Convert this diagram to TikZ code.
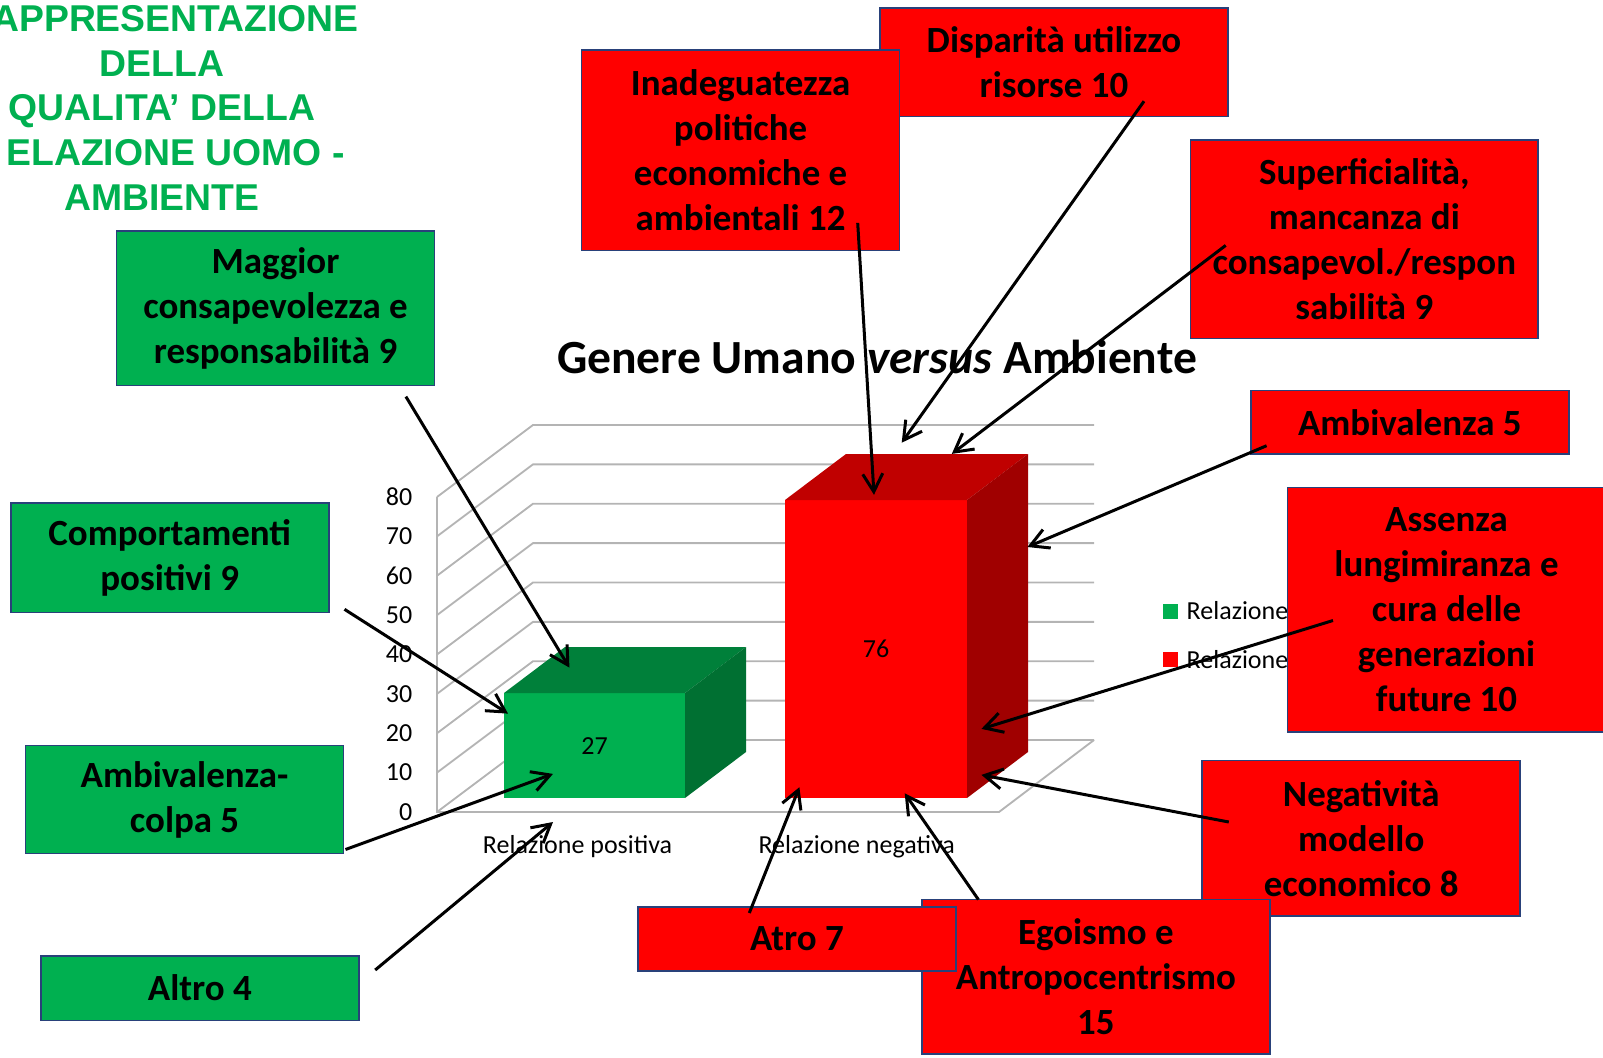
\documentclass[tikz,border=0pt]{standalone}
\usepackage{fontspec}
\setmainfont{Carlito}
\newfontfamily\titlefont{Liberation Sans}
\usepackage{tikz}
\usetikzlibrary{arrows.meta, calc, positioning}
\definecolor{boxgreen}{HTML}{00B050}
\definecolor{boxred}{HTML}{FF0000}
\definecolor{boxedge}{RGB}{41,65,122}
\definecolor{topgreen}{RGB}{0,128,58}
\definecolor{sidegreen}{RGB}{0,112,50}
\definecolor{topred}{RGB}{192,0,0}
\definecolor{sidered}{RGB}{160,0,0}
\definecolor{wallgray}{RGB}{180,180,180}

\tikzset{
  causebox/.style={draw=boxedge, line width=1.2pt, minimum width=238.5pt, inner sep=0pt,
    align=center, text=black, font=\fontsize{27.7}{33.7}\selectfont\bfseries},
  greenbox/.style={causebox, fill=boxgreen},
  redbox/.style={causebox, fill=boxred},
  widebox/.style={minimum width=260.7pt},
  pointer/.style={line width=2.25pt, -{Straight Barb[length=13.5pt,width=15pt]}},
  charttext/.style={font=\fontsize{19.5}{23}\selectfont},
}

\begin{document}
\begin{tikzpicture}[x=0.75pt, y=-0.75pt]
			\useasboundingbox (0,0) rectangle (1603,1057);
			\clip (0,0) rectangle (1603,1057);
			
			% Title
			\node[anchor=north, align=center, text=boxgreen, font=\titlefont\fontsize{28}{33.6}\selectfont\bfseries] (titolo) at (162,0.5)
				{\hphantom{R}APPRESENTAZIONE\\DELLA\\QUALITA’ DELLA\\\hphantom{R}ELAZIONE UOMO -\\AMBIENTE};
			\node[anchor=base, font=\fontsize{35.7}{40}\selectfont\bfseries] (grafico) at (877,373)
				{Genere Umano \textit{versus} Ambiente};
			
			% walls and grid
			\foreach \v [count=\i from 0] in {0,10,...,80} {
				\draw[wallgray, line width=1.4pt] (437,{812-\i*39.375}) -- (533,{740-\i*39.375}) -- (1094,{740-\i*39.375});
				\node[charttext, anchor=east] (tick\v) at (417,{812-\i*39.375}) {\v};
			}
			\draw[wallgray, line width=1.4pt] (437,497) -- (437,812) -- (999,812) -- (1094,740);
			
			% bars
			\fill[boxgreen] (504,693) rectangle (685,798);
			\fill[topgreen] (504,693) -- (565,647) -- (746,647) -- (685,693) -- cycle;
			\fill[sidegreen] (685,693) -- (746,647) -- (746,752) -- (685,798) -- cycle;
			\fill[boxred] (785,500) rectangle (967,798);
			\fill[topred] (785,500) -- (846,454) -- (1028,454) -- (967,500) -- cycle;
			\fill[sidered] (967,500) -- (1028,454) -- (1028,752) -- (967,798) -- cycle;
			\node[charttext] (val-pos) at (594.5,746) {27};
			\node[charttext] (val-neg) at (876,649) {76};
			\node[charttext] (cat-pos) at (577.6,846.5) {Relazione positiva};
			\node[charttext] (cat-neg) at (856.7,846.5) {Relazione negativa};
			
			% legend
			\fill[boxgreen] (1163,604) rectangle (1178,618.5);
			\node[charttext, anchor=west] (leg-pos) at (1182,611) {Relazione};
			\fill[boxred] (1163,652) rectangle (1178,666.5);
			\node[charttext, anchor=west] (leg-neg) at (1182,659.4) {Relazione};
			
			% positive causes
			\node[greenbox, minimum height=115.8pt] (maggior) at (275.5,308.2) {Maggior\\consapevolezza e\\responsabilità 9};
			\node[greenbox, minimum height=82pt] (comport) at (169.7,557.7) {Comportamenti\\positivi 9};
			\node[greenbox, minimum height=81.2pt] (ambcolpa) at (184.5,799.5) {Ambivalenza-\\colpa 5};
			\node[greenbox, minimum height=48.3pt] (altro) at (199.8,988.1) {Altro 4};
			
			% negative causes
			\node[redbox, widebox, minimum height=81.2pt] (dispar) at (1054,62.4) {Disparità utilizzo\\risorse 10};
			\node[redbox, minimum height=150.3pt] (inad) at (740.6,150.3) {Inadeguatezza\\politiche\\economiche e\\ambientali 12};
			\node[redbox, widebox, minimum height=148.8pt] (superf) at (1364.3,239.2) {Superficialità,\\mancanza di\\consapevol./respon\\sabilità 9};
			\node[redbox, minimum height=47.5pt] (ambiv) at (1409.8,422.2) {Ambivalenza 5};
			\node[redbox, minimum height=183.3pt] (assenza) at (1446.5,609.8) {Assenza\\lungimiranza e\\cura delle\\generazioni\\future 10};
			\node[redbox, minimum height=116.5pt] (negat) at (1361.2,838.3) {Negatività\\modello\\economico 8};
			\node[redbox, widebox, minimum height=115.8pt] (egoismo) at (1095.9,976.8) {Egoismo e\\Antropocentrismo\\15};
			\node[redbox, minimum height=48.3pt] (atro) at (796.9,939) {Atro 7};
			
			% arrows
			\coordinate (maggior-tail) at (405.9,396.6);   \coordinate (maggior-tip) at (569.4,667.6);
			\coordinate (comport-tail) at (344.5,609.3);   \coordinate (comport-tip) at (508,713.6);
			\coordinate (ambcolpa-tail) at (345.5,849.5);  \coordinate (ambcolpa-tip) at (553,773.9);
			\coordinate (altro-tail) at (375.2,970);       \coordinate (altro-tip) at (553,822);
			\coordinate (inad-tail) at (857.7,222.9);      \coordinate (inad-tip) at (874,494.8);
			\coordinate (dispar-tail) at (1144,101.2);     \coordinate (dispar-tip) at (901.7,442.7);
			\coordinate (superf-tail) at (1225.7,245.4);   \coordinate (superf-tip) at (951.8,453.9);
			\coordinate (ambiv-tail) at (1266.6,445.7);    \coordinate (ambiv-tip) at (1027.4,547);
			\coordinate (assenza-tail) at (1333,620.5);    \coordinate (assenza-tip) at (981.4,728.9);
			\coordinate (negat-tail) at (1228.8,822);      \coordinate (negat-tip) at (981.4,774.9);
			\coordinate (egoismo-tail) at (978.4,899.6);   \coordinate (egoismo-tip) at (904.7,793.3);
			\coordinate (atro-tail) at (749.3,913);        \coordinate (atro-tip) at (799.4,787.2);
			\foreach \n in {maggior,comport,ambcolpa,altro,inad,dispar,superf,ambiv,assenza,negat,egoismo,atro}
				\draw[pointer] (\n-tail) -- (\n-tip);
			
		\end{tikzpicture}
\end{document}
